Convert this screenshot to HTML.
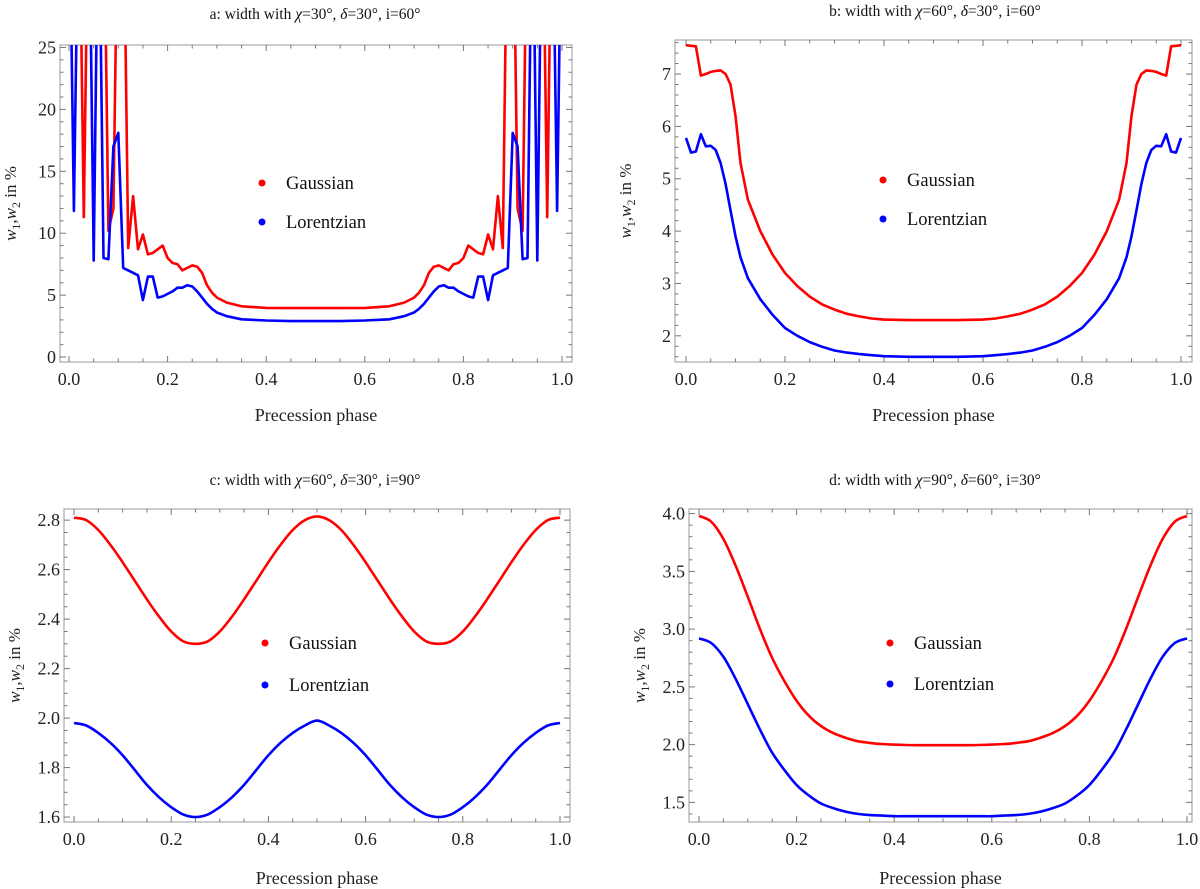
<!DOCTYPE html>
<html><head><meta charset="utf-8">
<style>
body{margin:0;background:#fff;}
svg{display:block;}
svg text{font-family:"Liberation Serif","DejaVu Serif",serif;}
.tick{font-size:18px;fill:#222;}
.ttl{font-size:15.5px;fill:#111;}
.lg{font-size:18.5px;fill:#111;}
</style></head>
<body>
<svg id="chart" width="1200" height="889" viewBox="0 0 1200 889" xmlns="http://www.w3.org/2000/svg" font-family="Liberation Serif, serif"></svg>
<script>
// Panel a data
const aX = [0,0.01,0.02,0.03,0.04,0.05,0.06,0.07,0.08,0.09,0.10,0.11,0.12,0.13,0.14,0.15,0.16,0.17,0.18,0.19,0.20,0.21,0.22,0.23,0.24,0.25,0.26,0.27,0.28,0.29,0.30,0.32,0.35,0.40,0.45,0.50,0.55,0.60,0.65,0.68,0.70,0.71,0.72,0.73,0.74,0.75,0.76,0.77,0.78,0.79,0.80,0.81,0.82,0.83,0.84,0.85,0.86,0.87,0.88,0.89,0.90,0.91,0.92,0.93,0.94,0.95,0.96,0.97,0.98,0.99,1.0];
const aRed = [40,40,40,11.3,40,40,40,40,10.2,12,40,40,8.8,13,8.7,9.9,8.3,8.4,8.7,9.0,8.0,7.6,7.5,7.0,7.2,7.4,7.3,6.8,5.8,5.2,4.8,4.4,4.1,3.97,3.95,3.95,3.95,3.97,4.1,4.4,4.8,5.2,5.8,6.8,7.3,7.4,7.2,7.0,7.5,7.6,8.0,9.0,8.7,8.4,8.3,9.9,8.7,13,8.8,40,40,12,10.2,40,40,40,40,11.3,40,40,40];
const aBlue = [40,11.8,40,40,40,7.8,40,8.0,7.9,17,18.1,7.2,7.0,6.8,6.6,4.6,6.5,6.5,4.8,4.9,5.1,5.3,5.6,5.6,5.8,5.7,5.3,4.8,4.3,3.9,3.6,3.3,3.05,2.95,2.9,2.9,2.9,2.95,3.05,3.3,3.6,3.9,4.3,4.8,5.3,5.7,5.8,5.6,5.6,5.3,5.1,4.9,4.8,6.5,6.5,4.6,6.6,6.8,7.0,7.2,18.1,17,7.9,8.0,40,7.8,40,40,40,11.8,40];
// Panel b data
const bX = [0,0.01,0.02,0.03,0.04,0.05,0.06,0.07,0.08,0.09,0.10,0.11,0.125,0.15,0.175,0.2,0.225,0.25,0.275,0.3,0.325,0.35,0.375,0.4,0.45,0.5,0.55,0.6,0.625,0.65,0.675,0.7,0.725,0.75,0.775,0.8,0.825,0.85,0.875,0.89,0.9,0.91,0.92,0.93,0.94,0.95,0.96,0.97,0.98,0.99,1.0];
const bRed = [7.55,7.54,7.53,6.97,7.0,7.04,7.06,7.07,7.0,6.8,6.2,5.3,4.6,4.0,3.55,3.2,2.95,2.75,2.6,2.5,2.42,2.37,2.33,2.31,2.3,2.3,2.3,2.31,2.33,2.37,2.42,2.5,2.6,2.75,2.95,3.2,3.55,4.0,4.6,5.3,6.2,6.8,7.0,7.07,7.06,7.04,7.0,6.97,7.53,7.54,7.55];
const bBlue = [5.78,5.5,5.52,5.85,5.62,5.63,5.55,5.3,4.9,4.4,3.9,3.5,3.1,2.7,2.4,2.15,2.0,1.88,1.79,1.72,1.68,1.65,1.63,1.61,1.6,1.6,1.6,1.61,1.63,1.65,1.68,1.72,1.79,1.88,2.0,2.15,2.4,2.7,3.1,3.5,3.9,4.4,4.9,5.3,5.55,5.63,5.62,5.85,5.52,5.5,5.78];
// Panel c data (x step 0.025)
const cRed = [2.81,2.80,2.76,2.70,2.63,2.555,2.48,2.41,2.35,2.31,2.30,2.31,2.35,2.41,2.48,2.555,2.63,2.70,2.76,2.80,2.815,2.80,2.76,2.70,2.63,2.555,2.48,2.41,2.35,2.31,2.30,2.31,2.35,2.41,2.48,2.555,2.63,2.70,2.76,2.80,2.81];
const cBlue = [1.98,1.97,1.94,1.90,1.85,1.79,1.73,1.68,1.64,1.61,1.60,1.61,1.64,1.68,1.73,1.79,1.85,1.90,1.94,1.97,1.99,1.97,1.94,1.90,1.85,1.79,1.73,1.68,1.64,1.61,1.60,1.61,1.64,1.68,1.73,1.79,1.85,1.90,1.94,1.97,1.98];
// Panel d data (x step 0.025)
const dRed = [3.98,3.93,3.78,3.55,3.28,3.0,2.75,2.55,2.38,2.25,2.16,2.10,2.06,2.03,2.015,2.005,2.0,1.997,1.995,1.995,1.995,1.995,1.995,1.997,2.0,2.005,2.015,2.03,2.06,2.10,2.16,2.25,2.38,2.55,2.75,3.0,3.28,3.55,3.78,3.93,3.98];
const dBlue = [2.92,2.88,2.76,2.57,2.35,2.13,1.93,1.78,1.65,1.56,1.49,1.45,1.42,1.40,1.39,1.385,1.38,1.38,1.38,1.38,1.38,1.38,1.38,1.38,1.38,1.385,1.39,1.40,1.42,1.45,1.49,1.56,1.65,1.78,1.93,2.13,2.35,2.57,2.76,2.88,2.92];
const stepX = [0,0.025,0.05,0.075,0.1,0.125,0.15,0.175,0.2,0.225,0.25,0.275,0.3,0.325,0.35,0.375,0.4,0.425,0.45,0.475,0.5,0.525,0.55,0.575,0.6,0.625,0.65,0.675,0.7,0.725,0.75,0.775,0.8,0.825,0.85,0.875,0.9,0.925,0.95,0.975,1.0];
const xTicks = ["0.0","0.2","0.4","0.6","0.8","1.0"];

const NS="http://www.w3.org/2000/svg";
const svg=document.getElementById('chart');
function mk(tag,attrs,parent){const e=document.createElementNS(NS,tag);for(const k in attrs)e.setAttribute(k,attrs[k]);(parent||svg).appendChild(e);return e;}
const FF='Liberation Serif, DejaVu Serif, serif';

const panels=[
 {id:'a',L:60,T:45,R:572,B:362,x0:69,x1:562,ymin:-0.4,ymax:25.2,maj:5,min:1,dec:0,
  title:['a: width with ','χ','=30°, ','δ','=30°, i=60°'],tx:315,ty:19,xlab:421,
  xs:aX,red:aRed,blue:aBlue,leg:[262,183,222],smooth:false},
 {id:'b',L:675,T:40,R:1192,B:362,x0:686,x1:1181,ymin:1.5,ymax:7.65,maj:1,min:0.2,dec:0,
  title:['b: width with ','χ','=60°, ','δ','=30°, i=60°'],tx:935,ty:16,xlab:421,
  xs:bX,red:bRed,blue:bBlue,leg:[883,180,219],smooth:false},
 {id:'c',L:64,T:509,R:570,B:822,x0:74,x1:560,ymin:1.58,ymax:2.845,maj:0.2,min:0.05,dec:1,
  title:['c: width with ','χ','=60°, ','δ','=30°, i=90°'],tx:315,ty:485,xlab:884,
  xs:stepX,red:cRed,blue:cBlue,leg:[265,643,685],smooth:true},
 {id:'d',L:689,T:509,R:1192,B:822,x0:699,x1:1187,ymin:1.33,ymax:4.04,maj:0.5,min:0.1,dec:1,
  title:['d: width with ','χ','=90°, ','δ','=60°, i=30°'],tx:935,ty:485,xlab:884,
  xs:stepX,red:dRed,blue:dBlue,leg:[890,643,684],smooth:true}
];

panels.forEach(p=>{
 const g=mk('g',{});
 
 
 const sx=v=>p.x0+(p.x1-p.x0)*v;
 const sy=v=>p.B-(v-p.ymin)/(p.ymax-p.ymin)*(p.B-p.T);
 const t=mk('text',{x:p.tx,y:p.ty,'text-anchor':'middle',class:'ttl','font-family':FF},g);
 
 
 p.title.forEach((s,i)=>{const ts=mk('tspan',{},t);ts.textContent=s;if(i==1||i==3)ts.setAttribute('font-style','italic');});
 const fr=mk('rect',{x:p.L,y:p.T,width:p.R-p.L,height:p.B-p.T,fill:'none',stroke:'#999','stroke-width':1},g);
 
 
 for(let k=0;k<=20;k++){const v=k*0.05;const X=sx(v);const len=(k%4==0)?6:3.5;
  mk('line',{x1:X,x2:X,y1:p.B,y2:p.B-len,stroke:'#777'},g);mk('line',{x1:X,x2:X,y1:p.T,y2:p.T+len,stroke:'#777'},g);
  if(k%4==0){const tl=mk('text',{x:X,y:p.B+23,'text-anchor':'middle',class:'tick','font-family':FF},g);tl.textContent=xTicks[k/4];
   
   }}
 const n0=Math.ceil(p.ymin/p.min-1e-6),n1=Math.floor(p.ymax/p.min+1e-6);
 for(let k=n0;k<=n1;k++){const v=k*p.min;const Y=sy(v);const isMaj=Math.abs(v/p.maj-Math.round(v/p.maj))<1e-6;const len=isMaj?6:3.5;
  mk('line',{x1:p.L,x2:p.L+len,y1:Y,y2:Y,stroke:'#777'},g);mk('line',{x1:p.R,x2:p.R-len,y1:Y,y2:Y,stroke:'#777'},g);
  if(isMaj){const tl=mk('text',{x:p.L-4,y:Y+6,'text-anchor':'end',class:'tick','font-family':FF},g);tl.textContent=v.toFixed(p.dec);
   
   }}
 const xl=mk('text',{x:(p.L+p.R)/2,y:p.xlab,'text-anchor':'middle',class:'tick','font-family':FF},g);xl.textContent='Precession phase';
 
 
 const yl=mk('text',{transform:`translate(${p.L-44},${(p.T+p.B)/2}) rotate(-90)`,'text-anchor':'middle',style:'font-size:17px','font-family':FF,fill:'#222'},g);
 
 
 yl.innerHTML='<tspan font-style="italic">w</tspan><tspan font-size="12" dy="4">1</tspan><tspan dy="-4">,</tspan><tspan font-style="italic">w</tspan><tspan font-size="12" dy="4">2</tspan><tspan dy="-4"> in %</tspan>';
 const cp=mk('clipPath',{id:'clip'+p.id},g);mk('rect',{x:p.L,y:p.T,width:p.R-p.L,height:p.B-p.T},cp);
 [['red',p.red,'#f00','gaussian-line'],['blue',p.blue,'#00f','lorentzian-line']].forEach(([c,arr,col,nm])=>{
  const pts=arr.map((v,i)=>[sx(p.xs[i]),sy(v)]);
  let d='M'+pts[0][0].toFixed(1)+','+pts[0][1].toFixed(1);
  if(p.smooth){for(let i=0;i<pts.length-1;i++){const p0=pts[Math.max(0,i-1)],p1=pts[i],p2=pts[i+1],p3=pts[Math.min(pts.length-1,i+2)];
    d+=` C${(p1[0]+(p2[0]-p0[0])/6).toFixed(1)},${(p1[1]+(p2[1]-p0[1])/6).toFixed(1)} ${(p2[0]-(p3[0]-p1[0])/6).toFixed(1)},${(p2[1]-(p3[1]-p1[1])/6).toFixed(1)} ${p2[0].toFixed(1)},${p2[1].toFixed(1)}`;}}
  else pts.slice(1).forEach(q=>d+=' L'+q[0].toFixed(1)+','+q[1].toFixed(1));
  const path=mk('path',{d:d,fill:'none',stroke:col,'stroke-width':2.6,'stroke-linejoin':'round','clip-path':`url(#clip${p.id})`},g);
  
  
 });
 [['Gaussian','#f00',p.leg[1]],['Lorentzian','#00f',p.leg[2]]].forEach(([lab,col,y])=>{
  const lg=mk('g',{},g);
  
  
  mk('circle',{cx:p.leg[0],cy:y,r:3.5,fill:col},lg);
  const lt=mk('text',{x:p.leg[0]+24,y:y+6,class:'lg','font-family':FF},lg);lt.textContent=lab;
 });
});
</script>
</body></html>
